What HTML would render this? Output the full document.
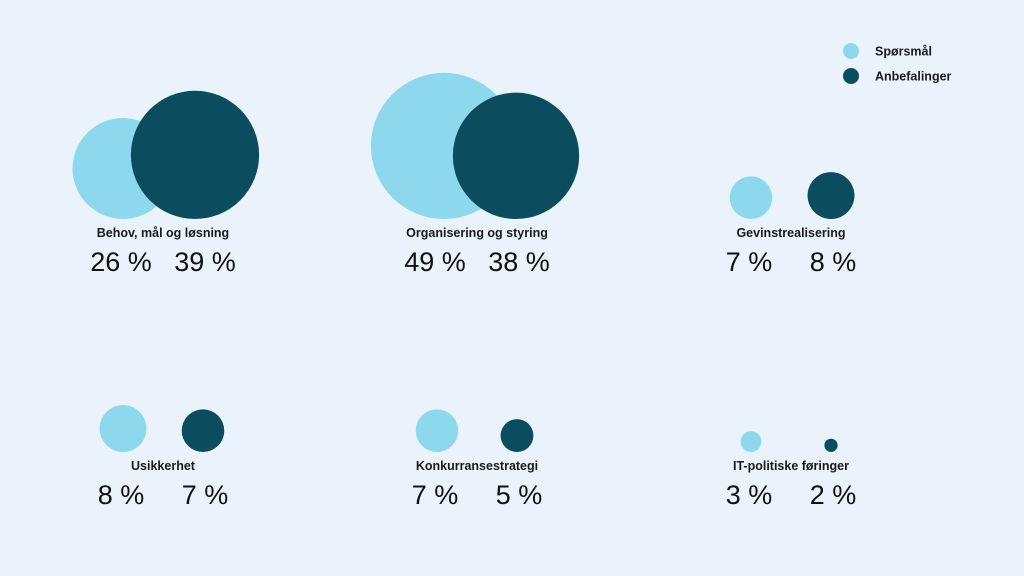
<!DOCTYPE html>
<html><head><meta charset="utf-8">
<style>
body{margin:0;background:#EAF3FB;font-family:"Liberation Sans",sans-serif;}
svg{display:block}
</style></head>
<body>
<svg id="chart" width="1024" height="576" viewBox="0 0 1024 576">
<rect width="1024" height="576" fill="#EAF3FB"/>
<g>
<circle cx="851" cy="51" r="8" fill="#8ED8EE"/>
<text x="875" y="55.5" font-size="12.5" font-weight="bold" fill="#1a1a1a">Spørsmål</text>
<circle cx="851" cy="76" r="8" fill="#0B4D5E"/>
<text x="875" y="80.5" font-size="12.5" font-weight="bold" fill="#1a1a1a">Anbefalinger</text>
</g>
<g id="groups"></g>
</svg>
<script>
const categories = ["Behov, mål og løsning","Organisering og styring","Gevinstrealisering","Usikkerhet","Konkurransestrategi","IT-politiske føringer"];
const questionValues = [26,49,7,8,7,3];
const recommendationValues = [39,38,8,7,5,2];

// layout (per-slot positions)
const slotCenterX = [163,477,791,163,477,791];
const rowBaseY = [219,452];
const lightOffset = -40, darkOffset = 40;
function rScale(v){ // sqrt scale fit to reference
  return Math.max(3, 11.9*Math.sqrt(v) - 10.2);
}
const NS = "http://www.w3.org/2000/svg";
const g = document.getElementById('groups');
function mk(tag, attrs){const e=document.createElementNS(NS,tag);for(const k in attrs)e.setAttribute(k,attrs[k]);return e;}
categories.forEach((cat,i)=>{
  const row = i<3?0:1;
  const base = rowBaseY[row];
  const cx = slotCenterX[i];
  const grp = mk('g',{});
  
  
  const r1 = rScale(questionValues[i]), r2 = rScale(recommendationValues[i]);
  let x1 = cx+lightOffset, x2 = cx+darkOffset;
  if (i===0){x1=cx-40; x2=cx+32;}
  if (i===1){x1=cx-33; x2=cx+39;}
  const c1 = mk('circle',{cx:x1,cy:base-r1,r:r1,fill:'#8ED8EE'});
  
  
  const c2 = mk('circle',{cx:x2,cy:base-r2,r:r2,fill:'#0B4D5E'});
  
  
  grp.appendChild(c1); grp.appendChild(c2);
  const t = mk('text',{x:cx,y:base+18,'text-anchor':'middle','font-size':'12.5','font-weight':'bold',fill:'#1a1a1a'});
  t.textContent = cat;
  
  
  grp.appendChild(t);
  const p1 = mk('text',{x:cx-42,y:base+52,'text-anchor':'middle','font-size':'27',fill:'#111'});
  p1.textContent = questionValues[i]+' %';
  
  
  const p2 = mk('text',{x:cx+42,y:base+52,'text-anchor':'middle','font-size':'27',fill:'#111'});
  p2.textContent = recommendationValues[i]+' %';
  
  
  grp.appendChild(p1); grp.appendChild(p2);
  g.appendChild(grp);
});
</script>
</body></html>
